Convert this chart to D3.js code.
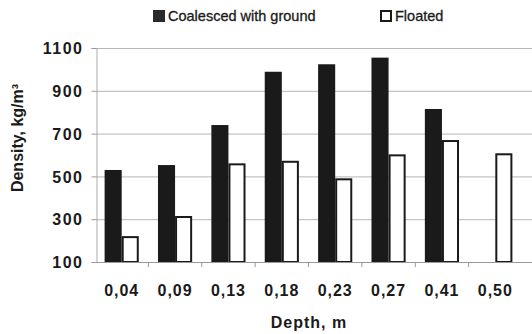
<!DOCTYPE html>
<html>
<head>
<meta charset="utf-8">
<script src="https://cdn.jsdelivr.net/npm/d3@7"></script>
<style>
  body { margin: 0; background: #fff; }
  svg text { font-family: Arial, "Liberation Sans", sans-serif; fill: #1a1a1a; }
</style>
</head>
<body>
<script>
// depth categories and the two density series (kg/m3)
var depths = ["0,04", "0,09", "0,13", "0,18", "0,23", "0,27", "0,41", "0,50"];
var coalesced = [530, 553, 740, 989, 1024, 1055, 815, null];
var floated = [221, 315, 561, 573, 491, 603, 670, 608];
var yTicks = [100, 300, 500, 700, 900, 1100];
var seriesNames = ["Coalesced with ground", "Floated"];

var width = 532, height = 334;
var svg = d3.select("body").append("svg")
    .attr("width", width)
    .attr("height", height);

var x = d3.scaleBand()
    .domain(depths)
    .range([95, 522])
    .paddingInner(0.36)
    .paddingOuter(0.18);

var y = d3.scaleLinear()
    .domain([100, 1100])
    .range([262, 48]);

// gridlines
svg.append("g").selectAll("line")
    .data(yTicks.slice(1))
    .enter().append("line")
    .attr("x1", 96).attr("x2", width)
    .attr("y1", function (d) { return y(d) + 0.5; })
    .attr("y2", function (d) { return y(d) + 0.5; })
    .attr("stroke", "#b5b5b5")
    .attr("stroke-width", 1);

// y axis
var yAxis = svg.append("g")
    .attr("transform", "translate(96.5,0)")
    .call(d3.axisLeft(y).tickValues(yTicks).tickFormat(d3.format("d")).tickSize(5).tickPadding(8));
yAxis.select(".domain").attr("stroke", "#aaa");
yAxis.selectAll(".tick line").attr("stroke", "#999");
yAxis.selectAll("text")
    .style("font-size", "16px")
    .style("font-weight", "bold")
    .style("letter-spacing", "1.5px")
    .attr("dy", "0.36em");

// bars
var half = x.bandwidth() / 2;
var groups = svg.append("g").selectAll("g")
    .data(depths)
    .enter().append("g")
    .attr("transform", function (d) { return "translate(" + x(d) + ",0)"; });

groups.filter(function (d, i) { return coalesced[i] != null; })
    .append("rect")
    .attr("x", 0)
    .attr("width", half)
    .attr("y", function (d) { return y(coalesced[depths.indexOf(d)]); })
    .attr("height", function (d) { return y(100) - y(coalesced[depths.indexOf(d)]); })
    .attr("fill", "#1a1a1a");

groups.append("rect")
    .attr("x", half + 1)
    .attr("width", half - 2)
    .attr("y", function (d) { return y(floated[depths.indexOf(d)]) + 1; })
    .attr("height", function (d) { return y(100) - y(floated[depths.indexOf(d)]) - 1; })
    .attr("fill", "#fff")
    .attr("stroke", "#1a1a1a")
    .attr("stroke-width", 2);

// x axis
var xAxis = svg.append("g")
    .attr("transform", "translate(0,262.5)")
    .call(d3.axisBottom(x).tickSize(0).tickPadding(22));
xAxis.select(".domain").attr("stroke", "#999").attr("d", "M96,0H" + width);
xAxis.selectAll("text")
    .style("font-size", "16px")
    .style("font-weight", "bold")
    .style("letter-spacing", "1px");
// small ticks between categories
svg.append("g").selectAll("line")
    .data(depths.slice(1))
    .enter().append("line")
    .attr("x1", function (d) { return x(d) - x.step() * x.paddingInner() / 2; })
    .attr("x2", function (d) { return x(d) - x.step() * x.paddingInner() / 2; })
    .attr("y1", 262).attr("y2", 267)
    .attr("stroke", "#999");

// axis titles
svg.append("text")
    .attr("x", 309).attr("y", 328)
    .attr("text-anchor", "middle")
    .style("font-size", "16px")
    .style("font-weight", "bold")
    .style("letter-spacing", "1px")
    .text("Depth, m");

svg.append("text")
    .attr("transform", "translate(23,138) rotate(-90)")
    .attr("text-anchor", "middle")
    .style("font-size", "16px")
    .style("font-weight", "bold")
    .text("Density, kg/m³");

// legend
var legX = [153, 380];
var leg = svg.append("g").selectAll("g")
    .data(seriesNames)
    .enter().append("g")
    .attr("transform", function (d, i) { return "translate(" + legX[i] + ",10)"; });
leg.append("rect")
    .attr("x", function (d, i) { return i ? 1 : 0; })
    .attr("y", function (d, i) { return i ? 1 : 0; })
    .attr("width", function (d, i) { return i ? 10 : 12; })
    .attr("height", function (d, i) { return i ? 10 : 12; })
    .attr("fill", function (d, i) { return i ? "#fff" : "#2a2a2a"; })
    .attr("stroke", function (d, i) { return i ? "#1a1a1a" : "none"; })
    .attr("stroke-width", 2);
leg.append("text")
    .attr("x", 15).attr("y", 11)
    .style("font-size", "14.5px")
    .style("stroke", "#1a1a1a")
    .style("stroke-width", "0.3px")
    .text(function (d) { return d; });
</script>
</body>
</html>
